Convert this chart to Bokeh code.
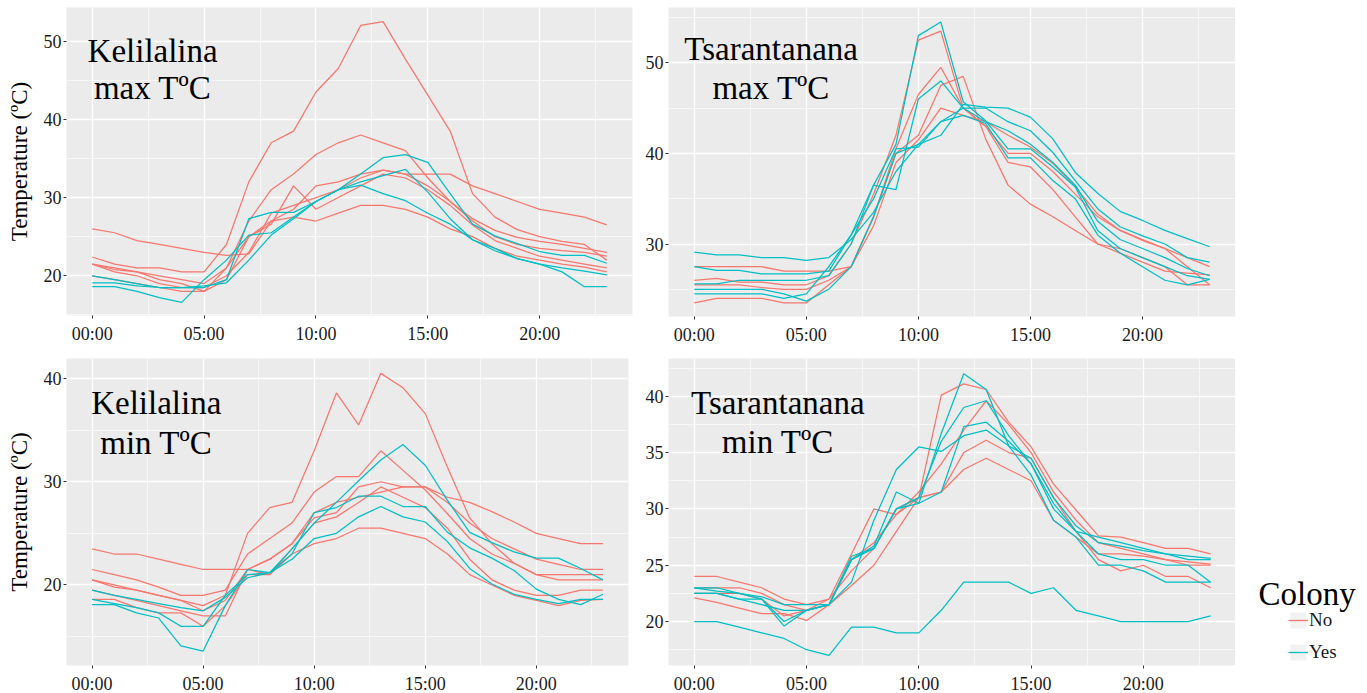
from bokeh.plotting import figure
from bokeh.models import FixedTicker, Range1d, Label, Legend, LegendItem
from bokeh.layouts import row, column
from bokeh.embed import file_html
from bokeh.resources import INLINE

# ---------------- data ----------------
hours = list(range(24))
x_tick_hours = [0, 5, 10, 15, 20]
x_minor_hours = [2.5, 7.5, 12.5, 17.5, 22.5]
x_tick_labels = ["00:00", "05:00", "10:00", "15:00", "20:00"]
colony_labels = ["No", "Yes"]
colony_colors = ["#F8766D", "#00BFC4"]
y_title = "Temperature (ºC)"

kel_max_no = [
    [22.4, 21.5, 21.0, 21.0, 20.5, 20.5, 24.0, 32.0, 37.0, 38.5, 43.5, 46.5, 52.0, 52.5, 47.7, 43.1, 38.5, 30.5, 27.5, 25.9, 25.0, 24.4, 24.0, 22.0],
    [26.0, 25.5, 24.5, 24.0, 23.5, 23.0, 22.6, 22.8, 27.0, 28.5, 31.5, 32.0, 33.0, 33.5, 33.0, 33.0, 33.0, 31.5, 30.5, 29.5, 28.5, 28.0, 27.5, 26.5],
    [21.5, 20.8, 20.5, 20.0, 19.5, 19.0, 21.0, 27.0, 31.0, 33.0, 35.5, 37.0, 38.0, 37.0, 36.0, 32.5, 29.5, 27.3, 25.8, 24.9, 24.4, 24.0, 23.5, 23.0],
    [20.0, 19.5, 19.0, 18.5, 18.0, 18.0, 21.0, 25.0, 27.0, 27.5, 27.0, 28.0, 29.0, 29.0, 28.5, 27.5, 26.0, 25.0, 23.5, 22.5, 22.0, 21.5, 21.1, 20.5],
    [21.5, 21.0, 20.5, 19.5, 19.0, 18.0, 19.5, 25.0, 26.6, 31.5, 28.5, 30.0, 31.5, 33.0, 32.5, 31.0, 29.0, 26.5, 24.5, 23.5, 22.5, 22.0, 21.5, 21.0],
    [21.5, 20.5, 20.0, 19.0, 18.5, 18.5, 20.0, 23.0, 28.0, 29.0, 30.0, 31.0, 32.5, 33.5, 33.0, 31.5, 29.5, 27.0, 25.0, 24.0, 23.5, 23.2, 23.0, 22.5],
]
kel_max_yes = [
    [20.0, 19.5, 19.0, 18.5, 18.5, 18.5, 19.5, 27.3, 28.1, 28.1, 29.5, 31.0, 33.0, 35.1, 35.5, 34.5, 30.5, 26.6, 25.1, 24.1, 23.1, 22.6, 22.6, 21.6],
    [19.1, 19.1, 18.7, 18.5, 18.5, 18.7, 19.1, 22.0, 25.2, 27.3, 29.5, 31.0, 32.0, 32.8, 33.6, 30.7, 27.3, 24.6, 23.2, 22.2, 21.5, 21.0, 20.6, 20.1],
    [18.6, 18.6, 18.0, 17.2, 16.6, 19.5, 22.0, 25.2, 25.5, 27.5, 29.5, 31.0, 31.6, 30.5, 29.6, 28.0, 26.6, 24.6, 23.5, 22.2, 21.5, 20.5, 18.6, 18.6],
]

tsa_max_no = [
    [27.5, 27.5, 27.5, 27.5, 27.0, 27.0, 27.0, 27.5, 33.0, 40.5, 46.5, 49.5, 45.0, 43.0, 40.0, 40.0, 38.0, 35.5, 33.0, 31.5, 30.5, 29.5, 28.5, 27.5],
    [26.0, 26.2, 25.8, 25.8, 25.5, 25.5, 26.5, 30.0, 35.5, 42.0, 52.5, 53.5, 45.0, 43.0, 39.0, 38.5, 36.0, 33.0, 30.0, 29.0, 28.0, 27.0, 26.8, 26.6],
    [25.5, 25.5, 25.5, 25.2, 25.0, 25.0, 26.0, 27.5, 33.0, 40.0, 42.0, 47.5, 48.5, 41.6, 36.5, 34.4, 33.0, 31.5, 30.0, 29.5, 28.5, 27.5, 25.5, 25.5],
    [23.5, 24.0, 24.0, 24.0, 23.5, 23.5, 25.5, 27.5, 32.0, 39.0, 41.5, 45.0, 44.2, 43.5, 42.0, 40.7, 38.9, 36.3, 33.3, 31.5, 30.4, 29.5, 27.5, 25.5],
]
tsa_max_yes = [
    [29.1, 28.8, 28.8, 28.5, 28.5, 28.2, 28.5, 30.5, 33.5, 38.0, 41.0, 42.0, 45.4, 45.1, 45.0, 44.0, 41.6, 37.9, 35.6, 33.6, 32.6, 31.5, 30.6, 29.7],
    [27.5, 27.1, 27.1, 26.7, 26.7, 26.7, 27.0, 31.0, 36.5, 41.0, 53.0, 54.5, 45.7, 43.6, 40.5, 40.5, 38.5, 36.3, 31.5, 29.5, 28.5, 27.5, 26.5, 26.1],
    [25.6, 25.6, 26.0, 26.0, 26.0, 26.0, 26.5, 30.0, 36.5, 36.0, 46.0, 48.0, 45.0, 43.5, 42.5, 41.0, 39.0, 36.5, 32.5, 30.5, 29.5, 28.5, 27.3, 26.5],
    [25.0, 25.0, 25.0, 25.0, 24.5, 23.7, 25.0, 27.5, 33.0, 40.0, 41.0, 43.5, 45.0, 45.0, 43.5, 42.5, 40.1, 37.0, 33.9, 31.9, 30.9, 30.0, 28.5, 28.0],
    [24.5, 24.5, 24.5, 24.5, 24.0, 24.5, 27.5, 31.0, 35.0, 40.5, 40.7, 43.5, 44.2, 43.3, 39.5, 39.5, 37.0, 35.0, 31.0, 29.0, 27.5, 26.0, 25.5, 26.1],
]

kel_min_no = [
    [23.5, 23.0, 23.0, 22.5, 22.0, 21.5, 21.5, 21.5, 22.5, 24.0, 27.0, 28.0, 28.5, 29.0, 29.5, 29.5, 28.5, 28.0, 27.1, 26.1, 25.0, 24.5, 24.0, 24.0],
    [20.5, 20.0, 19.5, 19.0, 18.5, 18.0, 19.0, 25.0, 27.5, 28.0, 33.0, 38.6, 35.5, 40.5, 39.1, 36.6, 31.4, 26.5, 24.0, 22.1, 21.0, 20.5, 20.5, 20.5],
    [21.5, 21.0, 20.5, 19.8, 19.0, 19.0, 19.5, 23.0, 24.5, 26.0, 29.0, 30.5, 30.5, 33.0, 31.1, 29.2, 26.9, 24.5, 23.0, 22.1, 21.0, 21.0, 21.0, 21.0],
    [20.5, 19.8, 19.5, 19.0, 18.5, 17.5, 18.5, 21.5, 22.5, 24.0, 26.5, 27.0, 29.5, 30.0, 29.5, 29.5, 28.0, 26.0, 24.5, 23.5, 22.5, 22.0, 21.5, 21.5],
    [18.6, 18.6, 17.8, 17.3, 17.3, 16.0, 18.0, 21.0, 21.0, 23.0, 24.0, 24.5, 25.5, 25.5, 25.0, 24.5, 23.0, 21.0, 20.0, 19.0, 18.5, 18.0, 18.5, 18.6],
    [19.5, 19.0, 18.5, 18.0, 17.5, 17.0, 17.0, 21.5, 21.0, 23.5, 26.0, 26.6, 28.0, 29.5, 28.5, 27.5, 25.5, 22.5, 20.5, 19.5, 19.0, 19.0, 19.5, 19.5],
]
kel_min_yes = [
    [19.5, 19.0, 18.6, 18.2, 17.8, 17.5, 18.8, 20.7, 21.2, 23.5, 26.0, 28.0, 30.1, 32.1, 33.6, 31.6, 28.2, 25.1, 24.1, 23.2, 22.6, 22.6, 21.6, 20.5],
    [18.6, 18.2, 17.8, 17.3, 16.0, 16.0, 19.0, 21.0, 21.2, 23.0, 27.0, 27.5, 28.6, 28.6, 27.6, 27.6, 25.1, 23.6, 22.6, 21.4, 19.6, 18.6, 18.1, 19.1],
    [18.1, 18.1, 17.3, 16.8, 14.1, 13.6, 18.0, 21.5, 21.2, 22.5, 24.5, 25.0, 26.6, 27.6, 26.6, 26.1, 24.2, 21.6, 20.1, 19.1, 18.6, 18.2, 18.6, 18.6],
]

tsa_min_no = [
    [24.0, 24.0, 23.5, 23.0, 22.0, 21.5, 22.0, 26.0, 30.0, 29.5, 31.0, 40.1, 41.1, 40.6, 37.7, 35.5, 32.2, 29.9, 27.6, 27.5, 27.0, 26.5, 26.5, 26.0],
    [23.0, 23.0, 23.0, 22.5, 21.5, 21.0, 21.5, 25.5, 27.0, 29.5, 31.5, 34.0, 37.0, 39.6, 37.5, 35.0, 31.5, 29.0, 27.0, 26.5, 26.0, 25.5, 25.0, 25.0],
    [22.1, 21.7, 21.2, 20.7, 20.7, 20.1, 21.5, 23.2, 25.0, 28.0, 31.0, 31.5, 35.0, 36.1, 35.0, 34.5, 31.0, 28.0, 25.5, 24.5, 25.0, 24.0, 24.0, 23.0],
    [22.5, 22.5, 22.5, 22.0, 20.5, 21.0, 22.0, 24.5, 26.5, 30.0, 31.0, 31.5, 33.5, 34.5, 33.5, 32.5, 29.0, 27.5, 26.0, 26.0, 25.8, 25.5, 25.3, 25.1],
]
tsa_min_yes = [
    [20.0, 20.0, 19.5, 19.0, 18.5, 17.5, 17.0, 19.5, 19.5, 19.0, 19.0, 21.0, 23.5, 23.5, 23.5, 22.5, 23.0, 21.0, 20.5, 20.0, 20.0, 20.0, 20.0, 20.5],
    [23.0, 23.0, 22.5, 22.0, 19.6, 21.0, 21.5, 25.5, 26.5, 30.0, 30.5, 36.7, 42.0, 40.6, 35.6, 33.0, 29.0, 27.5, 25.0, 25.0, 24.5, 23.5, 23.5, 23.5],
    [22.5, 22.5, 22.0, 21.5, 21.0, 21.0, 21.5, 23.5, 29.0, 33.5, 35.5, 35.1, 36.5, 37.0, 35.6, 34.5, 31.0, 28.5, 27.0, 26.7, 26.3, 26.0, 25.8, 25.6],
    [22.5, 22.5, 22.0, 22.0, 20.0, 21.0, 21.5, 25.8, 26.5, 30.0, 31.0, 36.0, 39.0, 39.6, 36.5, 34.0, 30.5, 28.0, 26.0, 25.5, 25.5, 25.0, 25.0, 23.5],
    [23.0, 22.7, 22.5, 22.2, 21.5, 21.5, 21.5, 25.5, 26.7, 31.5, 30.5, 31.5, 37.3, 37.7, 36.0, 34.0, 30.0, 28.0, 27.5, 27.0, 26.5, 26.0, 25.5, 25.5],
]

# ---------------- styling helpers ----------------
FONT = "Liberation Serif"
TXT = "#1A1A1A"


def make_panel(series_no, series_yes, yr, yt, ym, title1, title2, tpos,
               fw, fh, bl, br, bt, bb, ylabel):
    p = figure(frame_width=fw, frame_height=fh,
               x_range=Range1d(-1.15, 24.15), y_range=Range1d(*yr),
               output_backend="svg", toolbar_location=None, title=None,
               min_border_left=bl, min_border_right=br,
               min_border_top=bt, min_border_bottom=bb)
    p.background_fill_color = "#EBEBEB"
    p.border_fill_color = "white"
    p.outline_line_color = None

    p.xaxis.ticker = FixedTicker(ticks=x_tick_hours, minor_ticks=x_minor_hours)
    p.xaxis.major_label_overrides = {h: l for h, l in zip(x_tick_hours, x_tick_labels)}
    p.yaxis.ticker = FixedTicker(ticks=yt, minor_ticks=ym)
    for ax in (p.xaxis, p.yaxis):
        ax.axis_line_color = None
        ax.major_tick_line_color = "#333333"
        ax.major_tick_out = 3
        ax.major_tick_in = 0
        ax.minor_tick_line_color = None
        ax.major_label_text_font = FONT
        ax.major_label_text_font_size = "18px"
        ax.major_label_text_color = TXT
    p.xaxis.major_label_standoff = 4
    p.yaxis.major_label_standoff = 1
    if ylabel:
        p.yaxis.axis_label = y_title
        p.yaxis.axis_label_text_font = FONT
        p.yaxis.axis_label_text_font_size = "23px"
        p.yaxis.axis_label_text_font_style = "normal"
        p.yaxis.axis_label_text_color = "black"
        p.yaxis.axis_label_standoff = 9

    p.grid.grid_line_color = "white"
    p.grid.grid_line_width = 1.3
    p.grid.minor_grid_line_color = "white"
    p.grid.minor_grid_line_width = 0.6

    for s in series_no:
        p.line(hours, s, line_color=colony_colors[0], line_width=1.25)
    for s in series_yes:
        p.line(hours, s, line_color=colony_colors[1], line_width=1.25)

    (tx, ty1, ty2) = tpos
    for txt, ty in ((title1, ty1), (title2, ty2)):
        p.add_layout(Label(x=tx, y=ty, text=txt, text_font=FONT,
                           text_font_size="33px", text_color="black",
                           text_align="center", text_baseline="alphabetic"))
    return p


f1 = make_panel(kel_max_no, kel_max_yes, (14.92, 54.3), [20, 30, 40, 50], [15, 25, 35, 45],
                "Kelilalina", "max TºC", (2.7, 48.8, 44.0),
                566, 308, 66, 5, 7, 43, True)
f2 = make_panel(tsa_max_no, tsa_max_yes, (22.0, 56.1), [30, 40, 50], [25, 35, 45, 55],
                "Tsarantanana", "max TºC", (3.43, 51.5, 47.2),
                567, 309, 31, 0, 7, 42, False)
f3 = make_panel(kel_min_no, kel_min_yes, (12.2, 41.94), [20, 30, 40], [15, 25, 35],
                "Kelilalina", "min TºC", (2.89, 37.6, 33.8),
                562, 307, 66, 9, 0, 26, True)
f4 = make_panel(tsa_min_no, tsa_min_yes, (16.1, 43.35), [20, 25, 30, 35, 40],
                [17.5, 22.5, 27.5, 32.5, 37.5, 42.5],
                "Tsarantanana", "min TºC", (3.72, 39.4, 35.9),
                568, 307, 28, 2, 0, 26, False)

# ---------------- legend column ----------------
LW, LH = 130, 690
lf = figure(frame_width=LW, frame_height=LH, x_range=Range1d(0, LW), y_range=Range1d(LH, 0),
            output_backend="svg", toolbar_location=None, title=None,
            x_axis_location=None, y_axis_location=None, min_border=0)
lf.outline_line_color = None
lf.grid.visible = False
lf.background_fill_color = "white"

nan = float("nan")
items = []
for lab, col in zip(colony_labels, colony_colors):
    rb = lf.rect(x=[nan], y=[nan], width=1, height=1, fill_color="#F2F2F2", line_color=None)
    rl = lf.line(x=[nan], y=[nan], line_color=col, line_width=1.3)
    items.append(LegendItem(label=lab, renderers=[rb, rl]))

leg = Legend(items=items, location=(53, 27), orientation="vertical",
             glyph_width=20, glyph_height=20, label_standoff=1, spacing=10,
             padding=0, margin=0, border_line_color=None, background_fill_alpha=0,
             label_text_font=FONT, label_text_font_size="19px", label_text_color=TXT,
             label_height=20)
lf.add_layout(leg)
lf.add_layout(Label(x=23, y=593, text="Colony", text_font=FONT, text_font_size="33px",
                    text_color="black", text_align="left", text_baseline="alphabetic"))

layout = row(column(f1, f3), column(f2, f4), lf)

open("out.html", "w").write(file_html(layout, INLINE))
